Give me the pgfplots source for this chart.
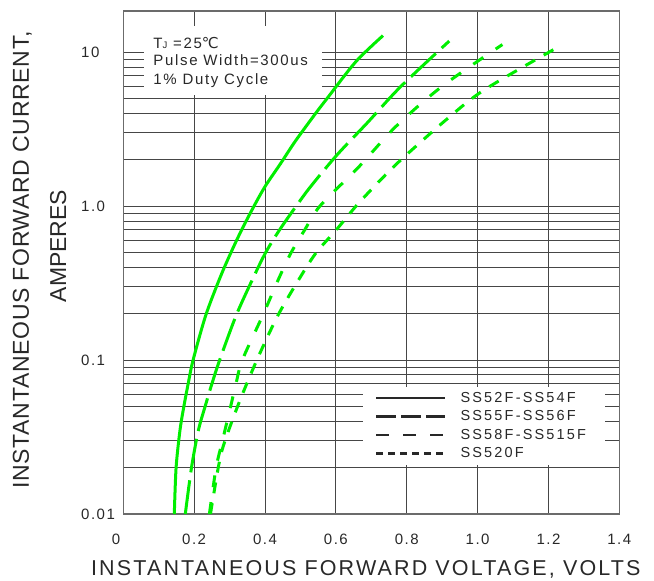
\documentclass[border=0pt]{standalone}
\usepackage{fontspec}
\setmainfont{Liberation Sans}
\newfontfamily\djv{DejaVu Sans}
\usepackage{pgfplots}
\pgfplotsset{compat=1.18}
\definecolor{crv}{RGB}{0,238,0}
\definecolor{ink}{RGB}{40,40,40}
\definecolor{gridc}{RGB}{70,70,70}

\begin{document}
\begin{tikzpicture}[x=1pt,y=1pt]
\begin{axis}[
  at={(0,0)}, anchor=south west,
  scale only axis, width=496pt, height=503pt,
  xmin=0, xmax=1.4, ymode=log, ymin=0.01, ymax=18.5,
  xtick={0,0.2,0.4,0.6,0.8,1.0,1.2,1.4},
  xticklabels={\llap{0\kern3pt},0.2,0.4,0.6,0.8,1.0,1.2,1.4},
  ytick={0.01,0.1,1,10}, yticklabels={0.01,0.1,1.0,10},
  major tick length=0pt, minor tick length=0pt,
  grid=both,
  major grid style={gridc, line width=1pt},
  minor grid style={gridc, line width=1pt},
  axis line style={gridc!80, line width=1.3pt},
  tick label style={font=\fontsize{15}{15}\selectfont\addfontfeature{LetterSpace=10}, text=ink},
  xticklabel style={anchor=center, yshift=-25pt},
  yticklabel style={anchor=west, xshift=-42.3pt, inner sep=0pt},
  legend image code/.code={\draw[#1] (0pt,0pt) -- (69pt,0pt);},
  legend cell align=left,
  legend style={at={(rel axis cs:0.483,0.2525)}, anchor=north west,
    fill=white, draw=none, inner xsep=12pt, inner ysep=4pt, row sep=4.5pt,
    font=\fontsize{14.5}{14.5}\selectfont\addfontfeature{LetterSpace=15}, text=ink,
    nodes={inner ysep=0pt, inner xsep=7pt, text height=11pt, text depth=3pt}},
]
% SS52F-SS54F
\addplot[crv, line width=3pt, smooth, forget plot] coordinates {
 (0.144,0.01) (0.149,0.02) (0.160,0.035) (0.171,0.05) (0.183,0.07) (0.197,0.1)
 (0.233,0.196) (0.274,0.347) (0.304,0.5) (0.334,0.70) (0.369,1.0) (0.401,1.35)
 (0.444,1.89) (0.487,2.67) (0.552,4.27) (0.578,5.1) (0.657,8.7) (0.733,12.8)};
% SS55F-SS56F
\addplot[crv, line width=3pt, smooth, dash pattern=on 34pt off 8pt, forget plot] coordinates {
 (0.175,0.01) (0.1925,0.02) (0.212,0.035) (0.231,0.05) (0.250,0.07) (0.272,0.1)
 (0.319,0.196) (0.368,0.347) (0.402,0.5) (0.441,0.7) (0.488,1.0) (0.530,1.35)
 (0.604,2.16) (0.690,3.5) (0.782,5.94) (0.920,11.8)};
% SS58F-SS515F
\addplot[crv, line width=3pt, smooth, dash pattern=on 12pt off 15pt, forget plot] coordinates {
 (0.243,0.01) (0.262,0.02) (0.280,0.03) (0.303,0.05) (0.318,0.07) (0.336,0.1)
 (0.394,0.196) (0.441,0.347) (0.474,0.5) (0.512,0.7) (0.555,1.0) (0.665,1.8)
 (0.770,3.3) (0.900,6.0) (1.070,11.2)};
% SS520F
\addplot[crv, line width=3pt, smooth, dash pattern=on 11pt off 10pt, forget plot] coordinates {
 (0.246,0.01) (0.268,0.02) (0.283,0.028) (0.324,0.051) (0.377,0.1) (0.437,0.196)
 (0.500,0.347) (0.545,0.5) (0.601,0.7) (0.657,1.0) (0.720,1.43) (0.784,2.0)
 (0.909,3.6) (1.017,5.65) (1.215,10.4)};

\addlegendimage{ink, line width=2.5pt}
\addlegendentry{\kern7pt SS52F-SS54F}
\addlegendimage{ink, line width=2.5pt, dash pattern=on 20pt off 5pt}
\addlegendentry{\kern7pt SS55F-SS56F}
\addlegendimage{ink, line width=2.5pt, dash pattern=on 13pt off 14pt}
\addlegendentry{\kern7pt SS58F-SS515F}
\addlegendimage{ink, line width=2.5pt, dash pattern=on 7pt off 5pt}
\addlegendentry{\kern7pt SS520F}

\fill[white] (rel axis cs:0.042,0.970) rectangle (rel axis cs:0.401,0.833);
\end{axis}

% conditions box text
\begin{scope}[every node/.style={anchor=base west, inner sep=0pt, text=ink,
    font=\fontsize{15}{15}\selectfont\addfontfeature{LetterSpace=11}}]
\node at (30,465.3) {T{\fontsize{9.5}{9.5}\selectfont J} =25{\djv ℃}};
\node at (30,448) {Pulse Width=300us};
\node at (30,429.6) {1\% Duty Cycle};
\end{scope}

% axis titles
\node[anchor=base, text=ink, inner sep=0pt, font=\fontsize{21.5}{21.5}\selectfont\addfontfeature{LetterSpace=10}]
  at (242.5,-61.5) {INSTANTANEOUS FORWARD VOLTAGE, VOLTS};
\node[text=ink, inner sep=0pt, rotate=90, font=\fontsize{23}{23}\selectfont\addfontfeature{LetterSpace=3}]
  at (-101,254) {INSTANTANEOUS FORWARD CURRENT,};
\node[text=ink, inner sep=0pt, rotate=90, font=\fontsize{23}{23}\selectfont]
  at (-65,268) {AMPERES};

\pgfresetboundingbox
\path (-123.3,-67) rectangle (530.7,514);
\end{tikzpicture}
\end{document}
